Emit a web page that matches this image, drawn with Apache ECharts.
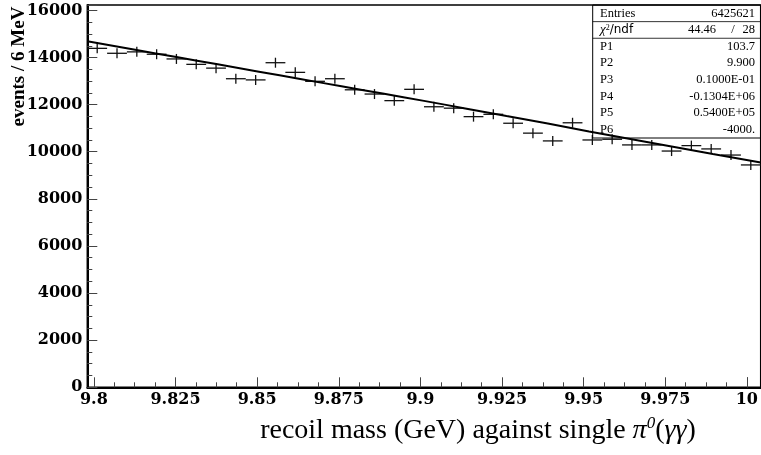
<!DOCTYPE html>
<html>
<head>
<meta charset="utf-8">
<script src="https://cdn.jsdelivr.net/npm/echarts@6/dist/echarts.min.js"></script>
<style>html,body{margin:0;padding:0;background:#fff}#c{width:761px;height:455px}</style>
</head>
<body>
<div id="c"></div>
<script>
// ---- data ----
const binCenters = [9.801, 9.807, 9.813, 9.819, 9.825, 9.831, 9.837, 9.843, 9.849, 9.855,
                    9.861, 9.867, 9.873, 9.879, 9.885, 9.891, 9.897, 9.903, 9.909, 9.915,
                    9.921, 9.927, 9.933, 9.939, 9.945, 9.951, 9.957, 9.963, 9.969, 9.975,
                    9.981, 9.987, 9.993, 9.999];
const binCounts = [14390, 14180, 14240, 14140, 13940, 13710, 13550, 13100, 13050, 13780,
                   13370, 12990, 13100, 12630, 12450, 12170, 12650, 11910, 11850, 11490,
                   11590, 11210, 10790, 10460, 11230, 10500, 10530, 10290, 10290, 10030,
                   10260, 10120, 9860, 9440];
const binWidth = 0.006;
const fitX = [9.798, 9.8125, 9.825, 9.8375, 9.85, 9.8625, 9.875, 9.8875, 9.9, 9.9125,
              9.925, 9.9375, 9.95, 9.9625, 9.975, 9.9875, 10.002];
const fitY = [14690, 14330, 14020, 13710, 13400, 13090, 12780, 12470, 12160, 11840,
              11520, 11200, 10860, 10540, 10220, 9900, 9540];
const xTickLabels = ['9.8', '9.825', '9.85', '9.875', '9.9', '9.925', '9.95', '9.975', '10'];
const yTickLabels = ['0', '2000', '4000', '6000', '8000', '10000', '12000', '14000', '16000'];
const statsLabels = ['Entries', 'χ²/ndf', 'P1', 'P2', 'P3', 'P4', 'P5', 'P6'];
const statsValues = ['6425621', '44.46 / 28', '103.7', '9.900', '0.1000E-01', '-0.1304E+06', '0.5400E+05', '-4000.'];
const xRange = [9.798, 10.002];
const yRange = [0, 16230];
const xTitle = 'recoil mass (GeV) against single ';
const yTitle = 'events / 6 MeV';

// ---- layout ----
const W = 761, H = 455;
const P = {left: 87.3, right: 760.7, top: 5, bottom: 387.3};
const pxOf = v => P.left + (v - xRange[0]) / (xRange[1] - xRange[0]) * (P.right - P.left);
const tickMin = parseFloat(xTickLabels[0]), tickMax = parseFloat(xTickLabels[xTickLabels.length - 1]);
const tickStep = parseFloat(xTickLabels[1]) - parseFloat(xTickLabels[0]);

const labelFont = {fontFamily: 'DejaVu Serif', fontWeight: 'bold', fontSize: 16, color: '#000'};

function renderCross(params, api) {
  const x = api.value(0), y = api.value(1);
  const l = api.coord([x - binWidth / 2, y]);
  const r = api.coord([x + binWidth / 2, y]);
  const c = api.coord([x, y]);
  const st = {stroke: '#111', lineWidth: 1.3};
  return {type: 'group', children: [
    {type: 'line', shape: {x1: l[0], y1: l[1], x2: r[0], y2: r[1]}, style: st},
    {type: 'line', shape: {x1: c[0], y1: c[1] - 5, x2: c[0], y2: c[1] + 5}, style: st}
  ]};
}

const chart = echarts.init(document.getElementById('c'), null, {renderer: 'canvas'});

const statsGraphics = [];
const bx = 592.7, by = P.top, bw = P.right - 592.7, bh = 133;
const rowH = bh / statsLabels.length;
statsGraphics.push({type: 'rect', shape: {x: bx, y: by, width: bw, height: bh},
  style: {fill: 'rgba(0,0,0,0)', stroke: '#000', lineWidth: 1}, z: 100});
[1, 2].forEach(k => statsGraphics.push({type: 'line',
  shape: {x1: bx, y1: by + rowH * k, x2: bx + bw, y2: by + rowH * k},
  style: {stroke: '#000', lineWidth: 0.8}, z: 100}));
statsLabels.forEach((lab, i) => {
  const cy = by + rowH * (i + 0.5);
  if (i === 1) {
    statsGraphics.push({type: 'text', x: 600, y: cy, z: 101,
      style: {text: '{chi|χ}{sup|2}{sans|/ndf}', verticalAlign: 'middle', align: 'left',
        rich: {chi: {fontFamily: 'Liberation Serif', fontStyle: 'italic', fontSize: 13, fill: '#000'},
               sup: {fontFamily: 'Liberation Serif', fontSize: 8, fill: '#000', verticalAlign: 'top'},
               sans: {fontFamily: 'DejaVu Sans', fontSize: 12, fill: '#000'}}}});
    const parts = statsValues[i].split(' / ');
    statsGraphics.push({type: 'text', x: 716, y: cy, z: 101,
      style: {text: parts[0], align: 'right', verticalAlign: 'middle', fontFamily: 'Liberation Serif', fontSize: 12.5, fill: '#000'}});
    statsGraphics.push({type: 'text', x: 733, y: cy, z: 101,
      style: {text: '/', align: 'center', verticalAlign: 'middle', fontFamily: 'Liberation Serif', fontSize: 12.5, fill: '#000'}});
    statsGraphics.push({type: 'text', x: 755, y: cy, z: 101,
      style: {text: parts[1], align: 'right', verticalAlign: 'middle', fontFamily: 'Liberation Serif', fontSize: 12.5, fill: '#000'}});
  } else {
    statsGraphics.push({type: 'text', x: 600, y: cy, z: 101,
      style: {text: lab, align: 'left', verticalAlign: 'middle', fontFamily: 'Liberation Serif', fontSize: 12.5, fill: '#000'}});
    statsGraphics.push({type: 'text', x: 755, y: cy, z: 101,
      style: {text: statsValues[i], align: 'right', verticalAlign: 'middle', fontFamily: 'Liberation Serif', fontSize: 12.5, fill: '#000'}});
  }
});

const option = {
  animation: false,
  backgroundColor: '#fff',
  grid: [
    {left: P.left, right: W - P.right, top: P.top, bottom: H - P.bottom,
     show: true, borderColor: '#000', borderWidth: 1.5, backgroundColor: '#fff'},
    {left: pxOf(tickMin), right: W - pxOf(tickMax), top: P.top, bottom: H - P.bottom, show: false}
  ],
  xAxis: [
    {gridIndex: 0, type: 'value', min: xRange[0], max: xRange[1],
     axisLine: {show: true, lineStyle: {color: '#000', width: 2}}, axisTick: {show: false},
     axisLabel: {show: false}, splitLine: {show: false}},
    {gridIndex: 1, type: 'value', min: tickMin, max: tickMax, interval: tickStep,
     axisLine: {show: false},
     axisTick: {show: true, inside: true, length: 10, lineStyle: {color: '#444', width: 1}},
     minorTick: {show: true, splitNumber: 4, length: 5, lineStyle: {color: '#444', width: 1}},
     axisLabel: {show: true, margin: 5, ...labelFont,
       formatter: v => xTickLabels[Math.round((v - tickMin) / tickStep)] || ''},
     splitLine: {show: false}}
  ],
  yAxis: [
    {gridIndex: 0, type: 'value', min: yRange[0], max: yRange[1], interval: 2000,
     axisLine: {show: true, lineStyle: {color: '#000', width: 2}},
     axisTick: {show: true, inside: true, length: 10, lineStyle: {color: '#444', width: 1}},
     minorTick: {show: true, splitNumber: 4, length: 5, lineStyle: {color: '#444', width: 1}},
     axisLabel: {show: true, margin: 5, showMaxLabel: false, ...labelFont,
       formatter: v => yTickLabels[Math.round(v / 2000)] || ''},
     splitLine: {show: false}},
    {gridIndex: 1, type: 'value', min: 0, max: 1, show: false}
  ],
  series: [
    {type: 'custom', xAxisIndex: 0, yAxisIndex: 0, renderItem: renderCross,
     data: binCenters.map((x, i) => [x, binCounts[i]]), z: 5},
    {type: 'line', xAxisIndex: 0, yAxisIndex: 0, showSymbol: false, smooth: true,
     data: fitX.map((x, i) => [x, fitY[i]]), lineStyle: {color: '#000', width: 2}, z: 6}
  ],
  graphic: [
    {type: 'text', x: 19, y: 66.5, rotation: Math.PI / 2, z: 100,
     style: {text: yTitle, align: 'center', verticalAlign: 'middle',
       fontFamily: 'Liberation Serif', fontWeight: 'bold', fontSize: 19, fill: '#000'}},
    {type: 'text', x: 478, y: 431, z: 100,
     style: {text: xTitle + '{it|π}{sup|0}({it|γγ})', align: 'center', verticalAlign: 'middle',
       fontFamily: 'Liberation Serif', fontSize: 28, fill: '#000', lineHeight: 32,
       rich: {it: {fontFamily: 'Liberation Serif', fontStyle: 'italic', fontSize: 28, fill: '#000'},
              sup: {fontFamily: 'Liberation Serif', fontStyle: 'italic', fontSize: 17, fill: '#000', verticalAlign: 'top'}}}},
    ...statsGraphics
  ]
};
chart.setOption(option);
</script>
</body>
</html>
